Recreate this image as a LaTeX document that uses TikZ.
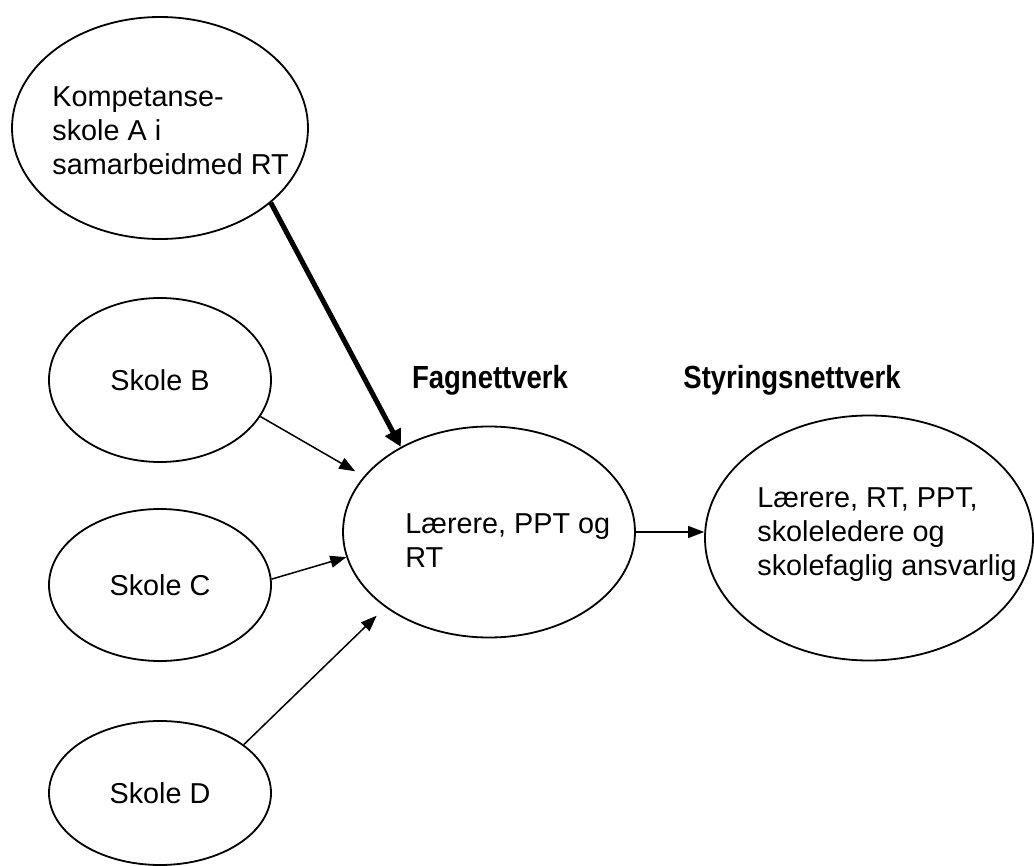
\documentclass[tikz,border=0pt]{standalone}
\usepackage{fontspec}
\usepackage{graphicx}
\setmainfont{Liberation Sans}
\usetikzlibrary{shapes.geometric, arrows.meta}

\tikzset{
  skole/.style={draw, ellipse, line width=0.9pt, inner sep=0pt},
  tekst/.style={align=left, inner sep=0pt, anchor=base west},
  header/.style={font=\bfseries\fontsize{16}{19}\selectfont, inner sep=0pt, anchor=base},
  pil/.style={-{Triangle[length=8pt,width=6pt]}, line width=0.75pt},
  tykkpil/.style={-{Triangle[length=8.5pt,width=8.5pt]}, line width=2.5pt}
}
\newcommand{\smal}[1]{\scalebox{0.86}[1]{#1}}

\begin{document}
\begin{tikzpicture}[x=0.5pt, y=-0.5pt, font=\fontsize{14.4}{17}\selectfont]
\useasboundingbox (0,0) rectangle (1034,866);

% skolene
\node[skole, minimum width=148pt, minimum height=111pt] (A) at (160,128) {};
\node[tekst] (A-tekst) at (52,175) {Kompetanse-\\skole A i\\samarbeidmed RT};
\node[skole, minimum width=111pt, minimum height=82pt] (B) at (160,380) {Skole B};
\node[skole, minimum width=111pt, minimum height=76pt] (C) at (160,585) {Skole C};
\node[skole, minimum width=111pt, minimum height=72pt] (D) at (160,793) {Skole D};

% nettverkene
\node[skole, minimum width=146pt, minimum height=105.5pt] (mid) at (489,532) {};
\node[tekst] (mid-tekst) at (405,567) {L\ae rere, PPT og\\RT};
\node[skole, minimum width=164pt, minimum height=122.5pt] (styr) at (869,538) {};
\node[tekst] (styr-tekst) at (757,575) {L\ae rere, RT, PPT,\\skoleledere og\\skolefaglig ansvarlig};

\node[header] (fag-h) at (490,388) {\smal{Fagnettverk}};
\node[header] (styr-h) at (792,388) {\smal{Styringsnettverk}};

% piler
\draw[tykkpil] (A.-34) -- (mid.136);
\draw[pil, shorten >=5pt] (B.-20) -- (mid.156);
\draw[pil] (C.3) -- (mid.190);
\draw[pil, shorten >=6pt] (D.30) -- (mid.216);
\draw[pil] (mid.east) -- (mid.east -| styr.west);
\end{tikzpicture}
\end{document}
